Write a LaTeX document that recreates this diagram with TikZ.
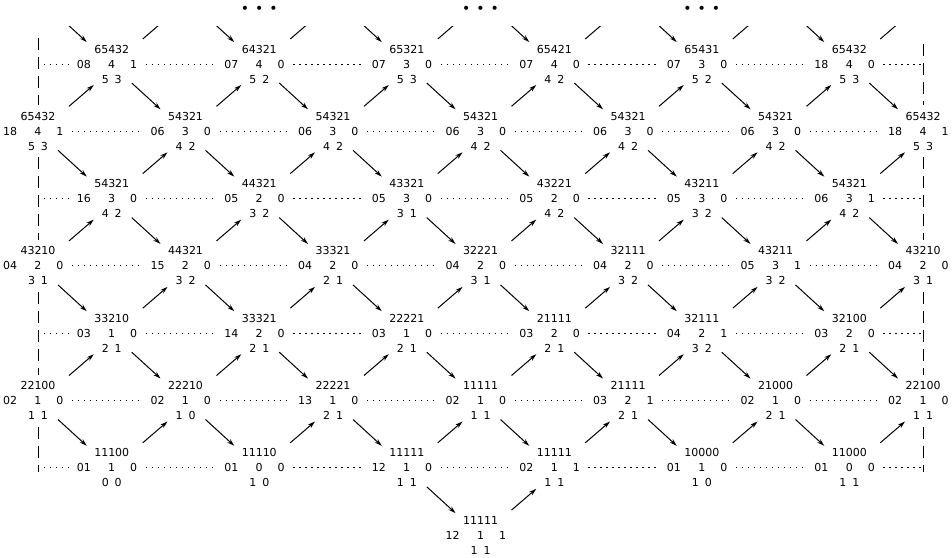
\documentclass[tikz,border=0pt]{standalone}
\usepackage{fontspec}
\setmainfont{DejaVu Sans}
\usetikzlibrary{arrows.meta}

% three lines of a state: top word, middle triple, bottom pair
\newcommand{\tri}[6]{#1\\\llap{#2\hspace{17.5pt}}#3\rlap{\hspace{15pt}#4}\\#5\hspace{6pt}#6}

\tikzset{
  st/.style={inner sep=0pt, align=center, font=\fontsize{11}{15}\selectfont},
  dn/.style={-{Stealth[length=7.5pt,width=4.5pt]}, line width=1pt},
  up/.style={dn},
  dot/.style={line width=1pt, dash pattern=on 1.4pt off 4.6pt},
  bound/.style={line width=1pt, dash pattern=on 12pt off 7pt},
}

\begin{document}
\begin{tikzpicture}[x=73.75pt, y=-67.3pt]
    \useasboundingbox (-0.5153,0.049) rectangle (12.393,8.3254);

    % states, row by row
    \foreach \row/\col/\tp/\ma/\mb/\mc/\ba/\bb in {
        1/1/65432/08/4/1/5/3, 1/3/64321/07/4/0/5/2, 1/5/65321/07/3/0/5/3,
        1/7/65421/07/4/0/4/2, 1/9/65431/07/3/0/5/2, 1/11/65432/18/4/0/5/3,
        2/0/65432/18/4/1/5/3, 2/2/54321/06/3/0/4/2, 2/4/54321/06/3/0/4/2,
        2/6/54321/06/3/0/4/2, 2/8/54321/06/3/0/4/2, 2/10/54321/06/3/0/4/2,
        2/12/65432/18/4/1/5/3,
        3/1/54321/16/3/0/4/2, 3/3/44321/05/2/0/3/2, 3/5/43321/05/3/0/3/1,
        3/7/43221/05/2/0/4/2, 3/9/43211/05/3/0/3/2, 3/11/54321/06/3/1/4/2,
        4/0/43210/04/2/0/3/1, 4/2/44321/15/2/0/3/2, 4/4/33321/04/2/0/2/1,
        4/6/32221/04/2/0/3/1, 4/8/32111/04/2/0/3/2, 4/10/43211/05/3/1/3/2,
        4/12/43210/04/2/0/3/1,
        5/1/33210/03/1/0/2/1, 5/3/33321/14/2/0/2/1, 5/5/22221/03/1/0/2/1,
        5/7/21111/03/2/0/2/1, 5/9/32111/04/2/1/3/2, 5/11/32100/03/2/0/2/1,
        6/0/22100/02/1/0/1/1, 6/2/22210/02/1/0/1/0, 6/4/22221/13/1/0/2/1,
        6/6/11111/02/1/0/1/1, 6/8/21111/03/2/1/2/1, 6/10/21000/02/1/0/2/1,
        6/12/22100/02/1/0/1/1,
        7/1/11100/01/1/0/0/0, 7/3/11110/01/0/0/1/0, 7/5/11111/12/1/0/1/1,
        7/7/11111/02/1/1/1/1, 7/9/10000/01/1/0/1/0, 7/11/11000/01/0/0/1/1,
        8/6/11111/12/1/1/1/1}
        \node[st] (n\row\col) at (\col,\row) {\tri{\tp}{\ma}{\mb}{\mc}{\ba}{\bb}};

    \foreach \col in {3,6,9}
        \node[st, font=\fontsize{14}{15}\selectfont] (e\col) at (\col,0.2) {\textbullet\hspace{6pt}\textbullet\hspace{6pt}\textbullet};

    % zigzag arrows between neighbouring rows
    \begin{scope}
        \clip (-1,0.443) rectangle (13,9);
        \foreach \col in {0,2,...,12}
            \coordinate (n0\col) at (\col,0);
        \foreach \row [evaluate=\row as \nrow using int(\row+1)] in {0,...,6} {
            \foreach \col [evaluate=\col as \ncol using int(\col+1)] in {0,...,11} {
                \ifodd\numexpr\row+\col\relax
                    \draw[up] ([shift={(31pt,25pt)}]n\nrow\col.center) -- ([shift={(-18pt,-21pt)}]n\row\ncol.center);
                \else
                    \draw[dn] ([shift={(20pt,-19pt)}]n\row\col.center) -- ([shift={(-25pt,22pt)}]n\nrow\ncol.center);
                \fi
            }
        }
    \end{scope}
    \draw[dn] ([shift={(20pt,-19pt)}]n75.center) -- ([shift={(-25pt,22pt)}]n86.center);
    \draw[up] ([shift={(31pt,25pt)}]n86.center) -- ([shift={(-18pt,-21pt)}]n77.center);

    % dotted rows
    \foreach \row in {1,3,5,7} {
        \coordinate (L\row) at (0,\row);
        \coordinate (R\row) at (12,\row);
        \draw[dot] (L\row) -- ([xshift=-42pt]n\row1.center);
        \foreach \col/\ncol in {1/3,3/5,5/7,7/9,9/11} {
            \draw[dot] ([xshift=34pt]n\row\col.center) -- ([xshift=-42pt]n\row\ncol.center);
        }
        \draw[dot] ([xshift=34pt]n\row11.center) -- (R\row);
    }
    \foreach \row in {2,4,6} {
        \foreach \col/\ncol in {0/2,2/4,4/6,6/8,8/10,10/12} {
            \draw[dot] ([xshift=34pt]n\row\col.center) -- ([xshift=-42pt]n\row\ncol.center);
        }
    }

    % side borders
    \coordinate (Lt) at (0,0.614);
    \coordinate (Lb) at (0,7.062);
    \coordinate (Rt) at (12,0.7);
    \coordinate (Rb) at (12,7.062);
    \draw[bound] (Lt) -- ([yshift=26pt]n20.center)
        ([yshift=-26pt]n20.center) -- ([yshift=26pt]n40.center)
        ([yshift=-26pt]n40.center) -- ([yshift=26pt]n60.center)
        ([yshift=-26pt]n60.center) -- (Lb);
    \draw[bound] (Rt) -- ([yshift=26pt]n212.center)
        ([yshift=-26pt]n212.center) -- ([yshift=26pt]n412.center)
        ([yshift=-26pt]n412.center) -- ([yshift=26pt]n612.center)
        ([yshift=-26pt]n612.center) -- (Rb);
\end{tikzpicture}
\end{document}
